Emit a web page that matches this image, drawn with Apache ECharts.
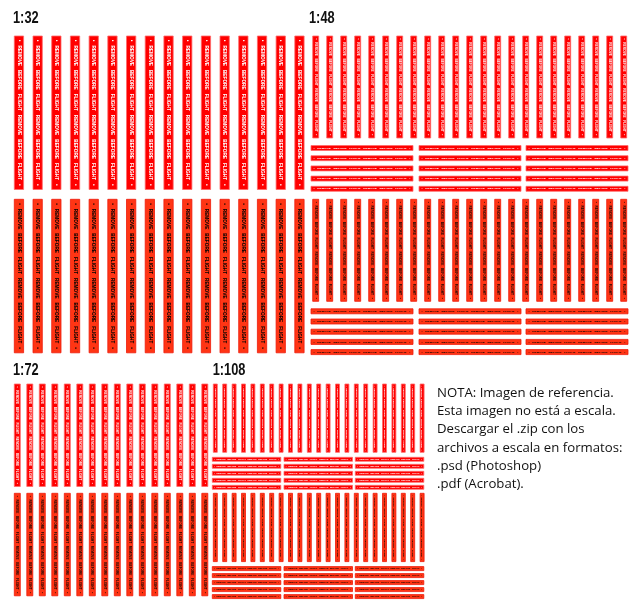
<!DOCTYPE html>
<html>
<head>
<meta charset="utf-8">
<script src="https://cdn.jsdelivr.net/npm/echarts@6/dist/echarts.min.js"></script>
<style>html,body{margin:0;padding:0;background:#fff}#chart{width:640px;height:613px}</style>
</head>
<body>
<div id="chart"></div>
<script>
// ---------- data ----------
const scales = ['1:32', '1:48', '1:72', '1:108'];
const verticalCount = [16, 23, 16, 23];
const horizontalRows = [0, 5, 0, 5];
const horizontalCols = [0, 3, 0, 3];
const printVariants = ['white', 'black'];
const stripWords = ['\u2022', 'REMOVE', 'BEFORE', 'FLIGHT', 'REMOVE', 'BEFORE', 'FLIGHT', '\u2022'];
const noteLines = [
  'NOTA: Imagen de referencia.',
  'Esta imagen no está a escala.',
  'Descargar el .zip con los',
  'archivos a escala en formatos:',
  '.psd (Photoshop)',
  '.pdf (Acrobat).'
];

// ---------- layout (sheet units = px) ----------
const layout = {
  '1:32':  { label: [13, 27],    x0: 14.3,  pitch: 18.7, w: 9.3, vLen: 153.5, tops: [36, 199.3] },
  '1:48':  { label: [309, 27],   x0: 312.7, pitch: 14.0, w: 6.0, vLen: 102,   tops: [36, 199.3],
             rowGap: 7.5, rowPitch: 10.2, rowH: 5, colX: [311, 419, 526], colW: 102 },
  '1:72':  { label: [13, 378.5], x0: 14.3,  pitch: 12.5, w: 6.0, vLen: 102.5, tops: [384, 493.3] },
  '1:108': { label: [212.7, 378.5], x0: 213.3, pitch: 9.4, w: 4.0, vLen: 68.3, tops: [384, 493.3],
             rowGap: 5, rowPitch: 7, rowH: 4, colX: [212.3, 284, 355.3], colW: 68.5 }
};
const variantStyle = {
  white: { fill: '#ff0000', stroke: '#ff6a6a', text: '#ffffff' },
  black: { fill: '#ff3514', stroke: '#ee1a0a', text: '#000000' }
};
const noteX = 437, noteY0 = 393, noteLH = 18.3;

// ---------- build strip items ----------
const strips = [];
scales.forEach((s, si) => {
  const L = layout[s];
  printVariants.forEach((v, vi) => {
    const top = L.tops[vi];
    for (let i = 0; i < verticalCount[si]; i++) {
      const x = L.x0 + i * L.pitch;
      strips.push([x, top, x + L.w, top + L.vLen, 0, vi]);
    }
    for (let r = 0; r < horizontalRows[si]; r++) {
      const y = top + L.vLen + L.rowGap + r * L.rowPitch;
      for (let c = 0; c < horizontalCols[si]; c++) {
        const x = L.colX[c];
        strips.push([x, y, x + L.colW, y + L.rowH, 1, vi]);
      }
    }
  });
});

const measureCtx = document.createElement('canvas').getContext('2d');
const stripText = stripWords.join('   ');
function measure(font) { measureCtx.font = font; return measureCtx.measureText(stripText).width; }

function renderItem(params, api) {
  const p1 = api.coord([api.value(0), api.value(1)]);
  const p2 = api.coord([api.value(2), api.value(3)]);
  const x = Math.min(p1[0], p2[0]), y = Math.min(p1[1], p2[1]);
  const w = Math.abs(p2[0] - p1[0]), h = Math.abs(p2[1] - p1[1]);
  const vertical = api.value(4) === 0;
  const st = variantStyle[printVariants[api.value(5)]];
  const thick = vertical ? w : h;
  const len = vertical ? h : w;
  const fs = Math.max(2.2, thick * 0.5);
  const font = 'bold ' + fs.toFixed(2) + 'px "Liberation Sans", Arial, sans-serif';
  const sx = (len * 0.95) / measure(font);
  return {
    type: 'group',
    children: [
      { type: 'rect', shape: { x: x, y: y, width: w, height: h },
        style: { fill: st.fill, stroke: st.stroke, lineWidth: 0.8 } },
      { type: 'text', x: x + w / 2, y: y + h / 2, rotation: vertical ? -Math.PI / 2 : 0,
        scaleX: sx, scaleY: 1,
        style: { text: stripText, font: font, fill: st.text, align: 'center', verticalAlign: 'middle' } }
    ]
  };
}

const graphics = [];
scales.forEach((s) => {
  const L = layout[s];
  graphics.push({ type: 'text', x: L.label[0], y: L.label[1], scaleX: 0.8,
    style: { text: s, font: 'bold 16px "Liberation Sans", Arial, sans-serif', fill: '#111', verticalAlign: 'bottom' } });
});
noteLines.forEach((t, i) => {
  graphics.push({ type: 'text', x: noteX, y: noteY0 + i * noteLH,
    style: { text: t, font: '13.2px "Open Sans", sans-serif', fill: '#111', verticalAlign: 'middle' } });
});

const chart = echarts.init(document.getElementById('chart'), null, { renderer: 'canvas' });
chart.setOption({
  animation: false,
  backgroundColor: '#ffffff',
  grid: { left: 0, right: 0, top: 0, bottom: 0 },
  xAxis: { type: 'value', min: 0, max: 640, show: false },
  yAxis: { type: 'value', min: 0, max: 613, inverse: true, show: false },
  graphic: graphics,
  series: [{ type: 'custom', renderItem: renderItem, data: strips, encode: { x: [0, 2], y: [1, 3] }, clip: false }]
});
</script>
</body>
</html>
